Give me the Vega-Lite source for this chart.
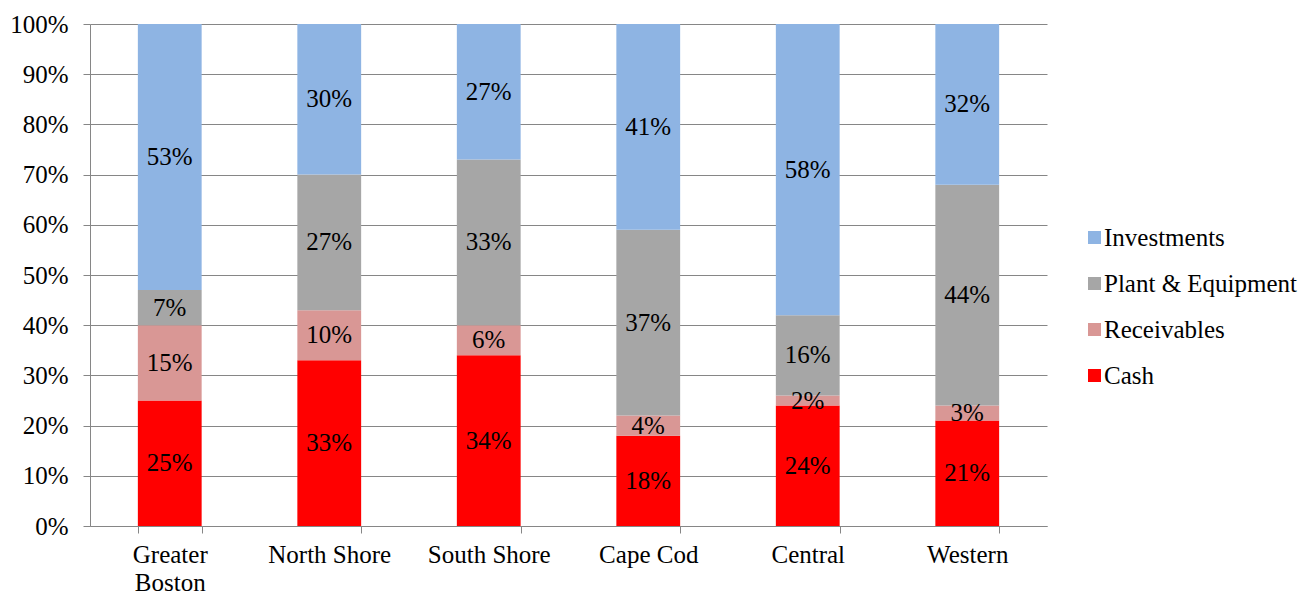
{
  "$schema": "https://vega.github.io/schema/vega-lite/v6.json",
  "width": 957,
  "height": 502,
  "autosize": "none",
  "padding": {"left": 90, "top": 24, "right": 267, "bottom": 68},
  "background": "white",
  "config": {
    "view": {"stroke": null},
    "font": "Liberation Serif"
  },
  "data": {
    "values": [
      {"region": "Greater Boston", "asset": "Cash", "v": 0.25},
      {"region": "Greater Boston", "asset": "Receivables", "v": 0.15},
      {"region": "Greater Boston", "asset": "Plant & Equipment", "v": 0.07},
      {"region": "Greater Boston", "asset": "Investments", "v": 0.53},
      {"region": "North Shore", "asset": "Cash", "v": 0.33},
      {"region": "North Shore", "asset": "Receivables", "v": 0.10},
      {"region": "North Shore", "asset": "Plant & Equipment", "v": 0.27},
      {"region": "North Shore", "asset": "Investments", "v": 0.30},
      {"region": "South Shore", "asset": "Cash", "v": 0.34},
      {"region": "South Shore", "asset": "Receivables", "v": 0.06},
      {"region": "South Shore", "asset": "Plant & Equipment", "v": 0.33},
      {"region": "South Shore", "asset": "Investments", "v": 0.27},
      {"region": "Cape Cod", "asset": "Cash", "v": 0.18},
      {"region": "Cape Cod", "asset": "Receivables", "v": 0.04},
      {"region": "Cape Cod", "asset": "Plant & Equipment", "v": 0.37},
      {"region": "Cape Cod", "asset": "Investments", "v": 0.41},
      {"region": "Central", "asset": "Cash", "v": 0.24},
      {"region": "Central", "asset": "Receivables", "v": 0.02},
      {"region": "Central", "asset": "Plant & Equipment", "v": 0.16},
      {"region": "Central", "asset": "Investments", "v": 0.58},
      {"region": "Western", "asset": "Cash", "v": 0.21},
      {"region": "Western", "asset": "Receivables", "v": 0.03},
      {"region": "Western", "asset": "Plant & Equipment", "v": 0.44},
      {"region": "Western", "asset": "Investments", "v": 0.32}
    ]
  },
  "transform": [
    {"calculate": "indexof(['Cash','Receivables','Plant & Equipment','Investments'], datum.asset)", "as": "o"},
    {"stack": "v", "groupby": ["region"], "sort": [{"field": "o", "order": "ascending"}], "as": ["v0", "v1"]},
    {"calculate": "(datum.v0 + datum.v1) / 2", "as": "mid"}
  ],
  "encoding": {
    "x": {
      "field": "region",
      "type": "nominal",
      "sort": ["Greater Boston", "North Shore", "South Shore", "Cape Cod", "Central", "Western"],
      "scale": {"paddingInner": 0.6, "paddingOuter": 0.3},
      "axis": {
        "title": null,
        "labelAngle": 0,
        "labelFontSize": 25,
        "labelColor": "#000000",
        "labelFont": "Liberation Serif",
        "labelExpr": "datum.value == 'Greater Boston' ? ['Greater', 'Boston'] : datum.value",
        "labelLineHeight": 28,
        "labelPadding": 9,
        "tickBand": "extent",
        "tickSize": 7,
        "tickColor": "#868686",
        "domainColor": "#868686",
        "grid": false
      }
    }
  },
  "layer": [
    {
      "mark": {"type": "bar"},
      "encoding": {
        "y": {
          "field": "v0",
          "type": "quantitative",
          "scale": {"domain": [0, 1]},
          "axis": {
            "title": null,
            "format": ".0%",
            "values": [0, 0.1, 0.2, 0.3, 0.4, 0.5, 0.6, 0.7, 0.8, 0.9, 1],
            "labelOverlap": false,
            "labelFontSize": 25,
            "labelColor": "#000000",
            "labelFont": "Liberation Serif",
            "labelPadding": 15,
            "tickSize": 7,
            "tickColor": "#868686",
            "domainColor": "#868686",
            "gridColor": "#868686",
            "gridWidth": 1,
            "grid": true
          }
        },
        "y2": {"field": "v1"},
        "color": {
          "field": "asset",
          "type": "nominal",
          "scale": {
            "domain": ["Investments", "Plant & Equipment", "Receivables", "Cash"],
            "range": ["#8EB4E3", "#A6A6A6", "#D99795", "#FF0000"]
          },
          "legend": {
            "title": null,
            "orient": "none",
            "legendX": 992,
            "legendY": 201,
            "symbolType": "square",
            "symbolSize": 169,
            "symbolStrokeWidth": 0,
            "labelFontSize": 25,
            "labelFont": "Liberation Serif",
            "labelColor": "#000000",
            "labelOffset": -3,
            "labelLimit": 300,
            "rowPadding": 20
          }
        }
      }
    },
    {
      "mark": {"type": "text", "fontSize": 25, "font": "Liberation Serif", "color": "#000000", "baseline": "middle"},
      "encoding": {
        "y": {"field": "mid", "type": "quantitative"},
        "text": {"field": "v", "type": "quantitative", "format": ".0%"}
      }
    }
  ]
}
